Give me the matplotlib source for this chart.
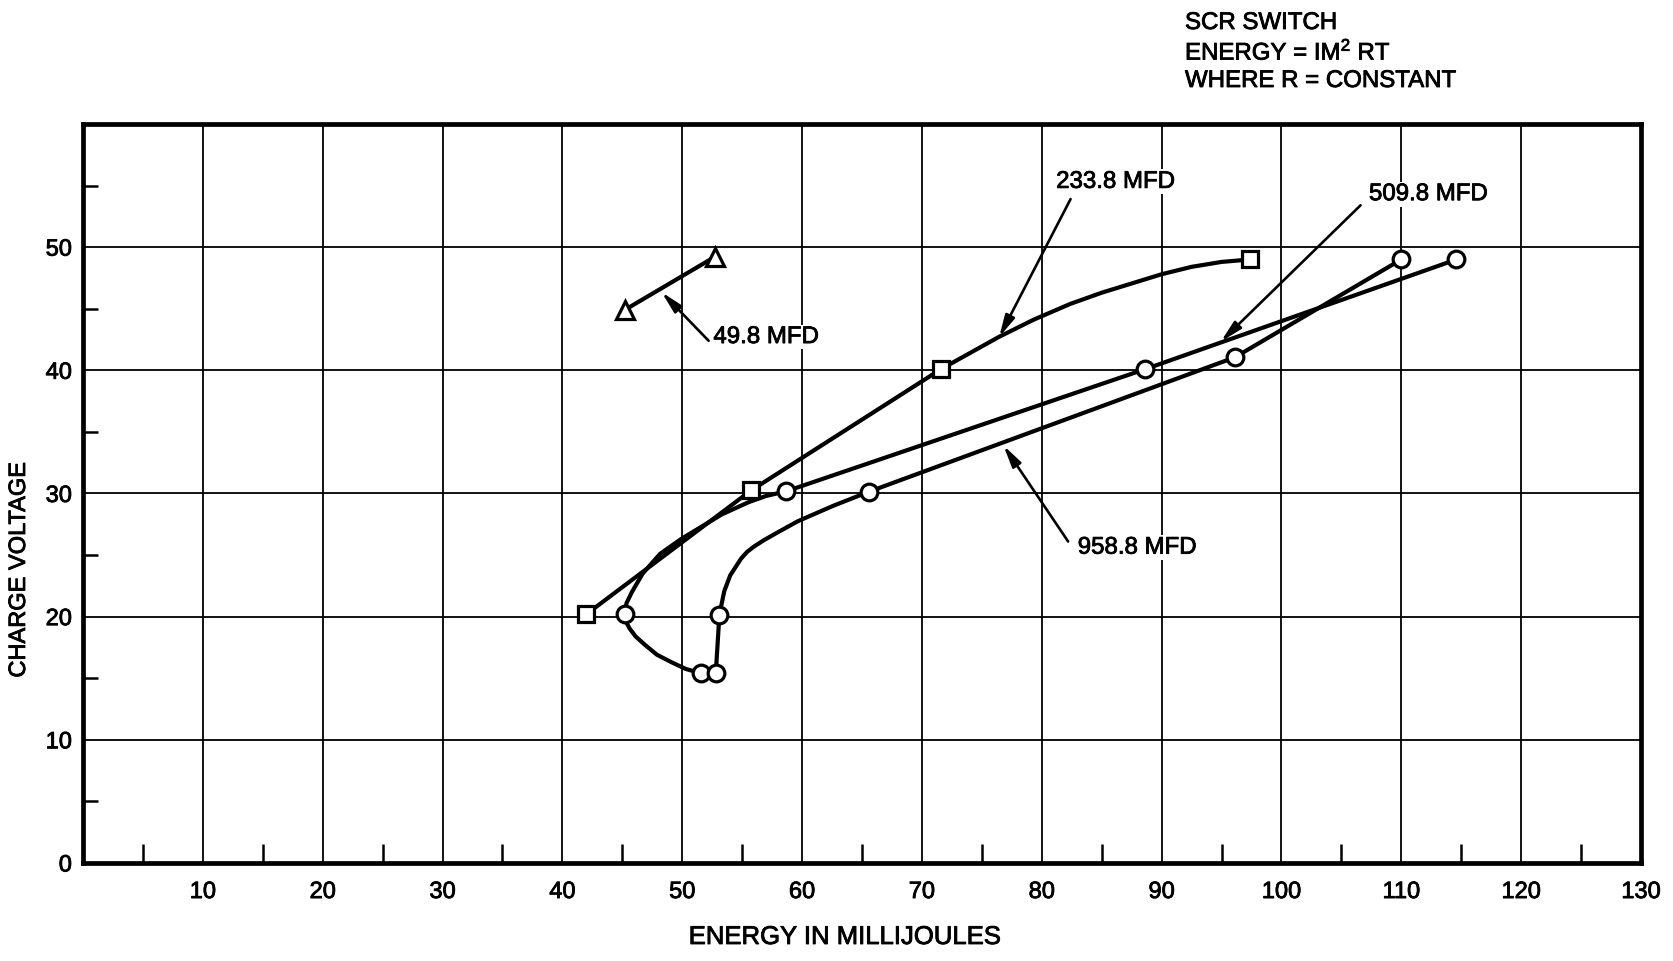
import matplotlib
matplotlib.use("Agg")
import matplotlib.pyplot as plt
import matplotlib.patheffects as pe
from matplotlib.ticker import FixedLocator

plt.rcParams['font.family'] = ['Liberation Sans', 'DejaVu Sans']
plt.rcParams['mathtext.fontset'] = 'custom'
plt.rcParams['mathtext.rm'] = 'Liberation Sans'
plt.rcParams['mathtext.it'] = 'Liberation Sans'

# ---- data (energy in millijoules, charge voltage) ----
# 49.8 MFD (triangles)
tri_x = [45.2, 52.7]
tri_y = [44.9, 49.2]

# 233.8 MFD (squares) measured points
sq_x = [42.0, 55.75, 71.6, 97.4]
sq_y = [20.2, 30.25, 40.1, 49.0]
# 233.8 MFD traced curve
c233_x = [42.0, 55.75, 71.6, 76.4, 79.3, 82.4, 85.0, 90.0, 92.5, 95.0, 97.4]
c233_y = [20.2, 30.25, 40.1, 42.7, 44.1, 45.4, 46.3, 47.8, 48.4, 48.8, 49.0]

# 509.8 MFD (circles) measured points
c509_px = [51.6, 45.2, 58.65, 88.65, 114.6]
c509_py = [15.4, 20.2, 30.17, 40.1, 49.0]
# 509.8 MFD traced curve
c509_x = [51.6, 50.3, 49.1, 47.9, 46.9, 46.1, 45.6, 45.3, 45.2, 45.35, 45.8, 46.7, 48.15, 49.9, 51.6,
          53.3, 55.55, 57.0, 58.65, 88.65, 114.6]
c509_y = [15.4, 15.75, 16.3, 16.9, 17.7, 18.4, 19.05, 19.6, 20.2, 21.1, 22.0, 23.5, 25.1, 26.3, 27.3,
          28.3, 29.3, 29.8, 30.17, 40.1, 49.0]

# 958.8 MFD (circles) measured points
c958_px = [52.8, 53.1, 65.6, 96.1, 110.0]
c958_py = [15.45, 20.15, 30.15, 41.05, 49.0]
# 958.8 MFD traced curve
c958_x = [52.8, 53.1, 53.5, 54.0, 54.9, 55.4, 56.0, 56.8, 57.7, 59.65, 62.6, 65.6, 96.1, 110.0]
c958_y = [15.45, 20.15, 22.05, 23.35, 24.7, 25.25, 25.7, 26.2, 26.7, 27.75, 29.0, 30.15, 41.05, 49.0]

x_ticks = [10, 20, 30, 40, 50, 60, 70, 80, 90, 100, 110, 120, 130]
x_tick_labels = ['10', '20', '30', '40', '50', '60', '70', '80', '90', '100', '110', '120', '130']
y_ticks = [0, 10, 20, 30, 40, 50]
y_tick_labels = ['0', '10', '20', '30', '40', '50']
x_minor = [5, 15, 25, 35, 45, 55, 65, 75, 85, 95, 105, 115, 125]
y_minor = [5, 15, 25, 35, 45, 55]

# label annotations: text, text position, arrow tail, arrow tip
labels = ['233.8 MFD', '509.8 MFD', '49.8 MFD', '958.8 MFD']
label_pos = [(81.2, 55.3), (107.3, 54.3), (52.6, 42.7), (83.0, 25.6)]
arrow_tail = [(82.4, 53.9), (106.6, 53.4), (52.2, 42.4), (82.2, 26.1)]
arrow_tip = [(76.44, 42.69), (94.94, 42.33), (48.28, 46.34), (76.8, 33.9)]

# ---- figure ----
W, H = 1674, 961
fig = plt.figure(figsize=(W / 100, H / 100), dpi=100)
ax = fig.add_axes([0.0496, 0.102, 0.9307, 0.769])

heavy = [pe.withStroke(linewidth=0.6, foreground='black')]

ax.set_xlim(0, 130)
ax.set_ylim(0, 60)
ax.set_xticks(x_ticks)
ax.set_xticklabels(x_tick_labels)
ax.set_yticks(y_ticks)
ax.set_yticklabels(y_tick_labels)
ax.xaxis.set_minor_locator(FixedLocator(x_minor))
ax.yaxis.set_minor_locator(FixedLocator(y_minor))
ax.tick_params(which='major', length=0, labelsize=17, colors='black')
ax.tick_params(axis='x', which='major', pad=13)
ax.tick_params(axis='y', which='major', pad=8)
ax.tick_params(axis='x', which='minor', direction='in', length=14, width=1.8, color='black')
ax.tick_params(axis='y', which='minor', direction='in', length=11, width=1.8, color='black')
for t in ax.get_xticklabels() + ax.get_yticklabels():
    t.set_path_effects(heavy)
ax.grid(True, which='major', color='black', lw=1.3)
ax.set_axisbelow(True)
for s in ax.spines.values():
    s.set_linewidth(3.4)
    s.set_color('black')

lkw = dict(color='black', lw=3.0, solid_capstyle='round', solid_joinstyle='round', zorder=3)
ax.plot(tri_x, tri_y, **lkw)
ax.plot(c233_x, c233_y, **lkw)
ax.plot(c509_x, c509_y, **lkw)
ax.plot(c958_x, c958_y, **lkw)

mkw = dict(linestyle='none', mfc='white', mec='black', mew=2.3, zorder=5)
ax.plot(tri_x, tri_y, marker='^', ms=13, **mkw)
ax.plot(sq_x, sq_y, marker='s', ms=11, **mkw)
ax.plot(c509_px, c509_py, marker='o', ms=12, **mkw)
ax.plot(c958_px, c958_py, marker='o', ms=12, **mkw)

for lab, pos, tail, tip in zip(labels, label_pos, arrow_tail, arrow_tip):
    ax.annotate('', xy=tip, xytext=tail,
                arrowprops=dict(arrowstyle='-|>,head_length=1.3,head_width=0.3',
                                lw=1.9, color='black', shrinkA=0, shrinkB=0),
                zorder=4)
    ax.text(pos[0], pos[1], lab, ha='left', va='center', fontsize=17.3, color='black',
            zorder=6, bbox=dict(facecolor='white', edgecolor='none', pad=1),
            path_effects=heavy)

# axis titles
fig.text(19 / W, 1 - 570 / H, 'CHARGE VOLTAGE', rotation=90, ha='center', va='center',
         fontsize=17, path_effects=heavy)
fig.text(845 / W, 1 - 937 / H, 'ENERGY IN MILLIJOULES', ha='center', va='center',
         fontsize=18.5, path_effects=heavy)

# note block
for i, line in enumerate(['SCR SWITCH', r'ENERGY = IM$^{2}$ RT', 'WHERE R = CONSTANT']):
    fig.text(1185 / W, 1 - (23 + 29 * i) / H, line, ha='left', va='center', fontsize=17.3,
             path_effects=heavy)

fig.savefig('out.png', dpi=100, facecolor='white')
